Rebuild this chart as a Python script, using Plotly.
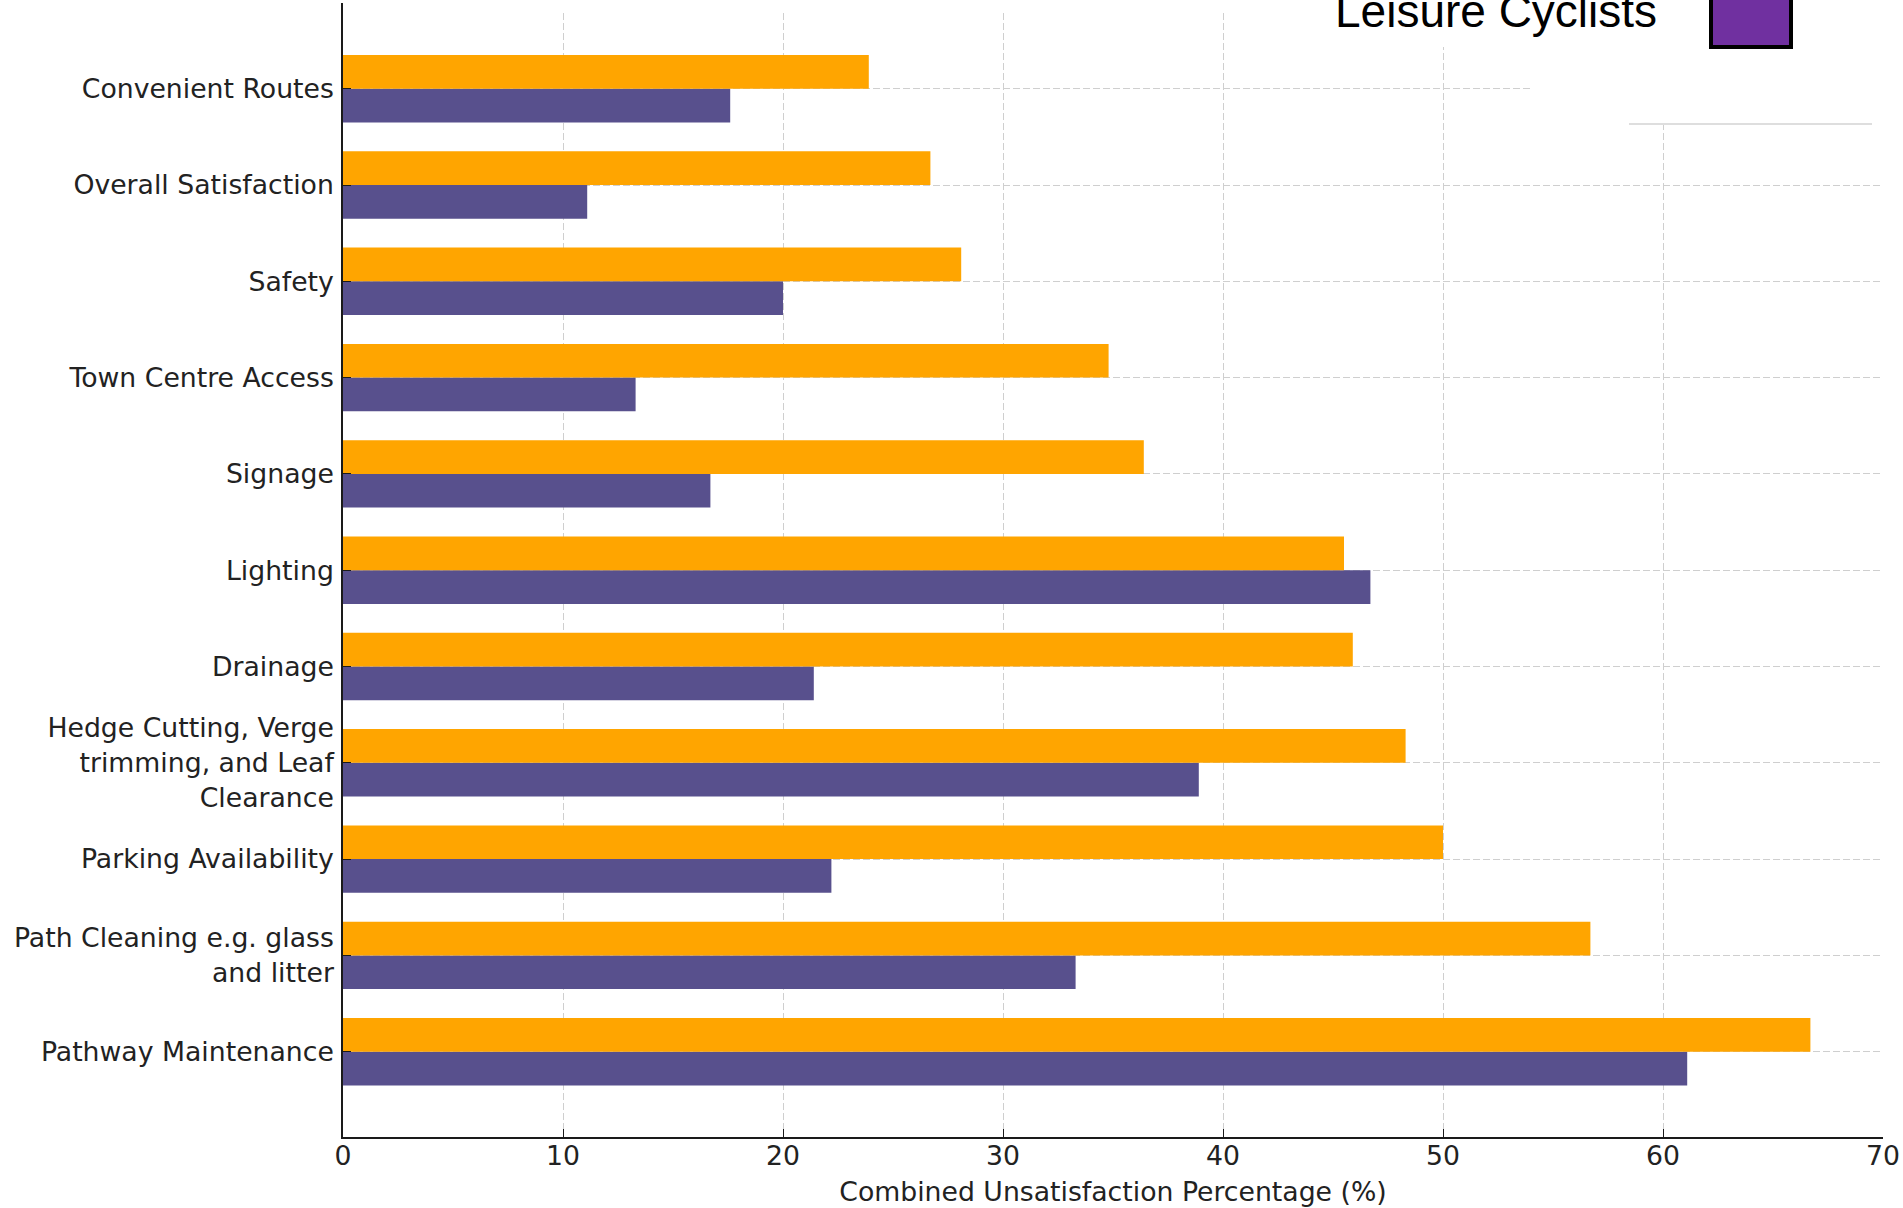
import plotly.graph_objects as go

categories = [
    "Pathway Maintenance",
    "Path Cleaning e.g. glass<br>and litter",
    "Parking Availability",
    "Hedge Cutting, Verge<br>trimming, and Leaf<br>Clearance",
    "Drainage",
    "Lighting",
    "Signage",
    "Town Centre Access",
    "Safety",
    "Overall Satisfaction",
    "Convenient Routes",
]
orange_values = [66.7, 56.7, 50.0, 48.3, 45.9, 45.5, 36.4, 34.8, 28.1, 26.7, 23.9]
purple_values = [61.1, 33.3, 22.2, 38.9, 21.4, 46.7, 16.7, 13.3, 20.0, 11.1, 17.6]
x_ticks = [0, 10, 20, 30, 40, 50, 60, 70]
legend_label = "Leisure Cyclists"

W, H = 1903, 1208
L, R, T, B = 343, 20, 3, 71
PW, PH = W - L - R, H - T - B


def px_x(p):
    return (p - L) / PW


def px_y(p):
    return (H - B - p) / PH


FONT = "DejaVu Sans"
TXT = "#222222"

fig = go.Figure()
fig.add_trace(go.Bar(y=categories, x=purple_values, orientation="h",
                     marker=dict(color="#58508d", line=dict(width=0)),
                     showlegend=False))
fig.add_trace(go.Bar(y=categories, x=orange_values, orientation="h",
                     marker=dict(color="#ffa500", line=dict(width=0)),
                     showlegend=False))

grid = dict(showgrid=True, gridcolor="#cfcfcf", griddash="7px,3px", gridwidth=1.2)

fig.update_layout(
    width=W, height=H,
    margin=dict(l=L, r=R, t=T, b=B, autoexpand=False),
    paper_bgcolor="white", plot_bgcolor="white",
    barmode="group", bargap=0.3, bargroupgap=0,
    font=dict(family=FONT, size=26.7, color=TXT),
    xaxis=dict(range=[0, 70], tickvals=x_ticks, ticktext=[str(v) for v in x_ticks],
               showline=True, linecolor="#1a1a1a", linewidth=1.6,
               ticks="inside", ticklen=8, tickwidth=1.4, tickcolor="#1a1a1a",
               tickfont=dict(family=FONT, size=26.7, color=TXT),
               ticklabelstandoff=-6,
               title=dict(text="Combined Unsatisfaction Percentage (%)",
                          font=dict(family=FONT, size=26.7, color=TXT), standoff=12),
               zeroline=False, automargin=False, **grid),
    yaxis=dict(type="category", categoryorder="array", categoryarray=categories,
               range=[-0.886, 10.89],
               showline=True, linecolor="#1a1a1a", linewidth=1.6,
               ticks="inside", ticklen=8, tickwidth=1.4, tickcolor="#1a1a1a",
               tickfont=dict(family=FONT, size=26.7, color=TXT),
               ticklabelstandoff=2,
               zeroline=False, automargin=False, **grid),
)

shapes = [
    # white patches hiding the grid in the upper area (legend region)
    dict(type="rect", xref="paper", yref="paper", layer="above",
         x0=px_x(1533), x1=px_x(W + 5), y0=px_y(124), y1=px_y(-5),
         fillcolor="white", line=dict(width=0)),
    dict(type="rect", xref="paper", yref="paper", layer="above",
         x0=px_x(1440), x1=px_x(1534), y0=px_y(47), y1=px_y(-5),
         fillcolor="white", line=dict(width=0)),
    dict(type="rect", xref="paper", yref="paper", layer="above",
         x0=px_x(346), x1=px_x(W + 5), y0=px_y(12), y1=px_y(-5),
         fillcolor="white", line=dict(width=0)),
    # legend frame remnant
    dict(type="line", xref="paper", yref="paper", layer="above",
         x0=px_x(1629), x1=px_x(1872), y0=px_y(124), y1=px_y(124),
         line=dict(color="#dedede", width=2)),
    # legend swatch
    dict(type="rect", xref="paper", yref="paper", layer="above",
         x0=px_x(1711), x1=px_x(1791), y0=px_y(47), y1=px_y(-20),
         fillcolor="#7030a0", line=dict(color="black", width=4)),
]
fig.update_layout(shapes=shapes)

fig.add_annotation(xref="paper", yref="paper", x=px_x(1333), y=px_y(11),
                   xanchor="left", yanchor="middle", showarrow=False,
                   text=legend_label,
                   font=dict(family="Liberation Sans", size=46, color="black"))

fig.write_html(
    "out.html",
    config={"displayModeBar": False},
    post_script="document.body.style.margin='0';document.body.style.overflow='hidden';",
)
